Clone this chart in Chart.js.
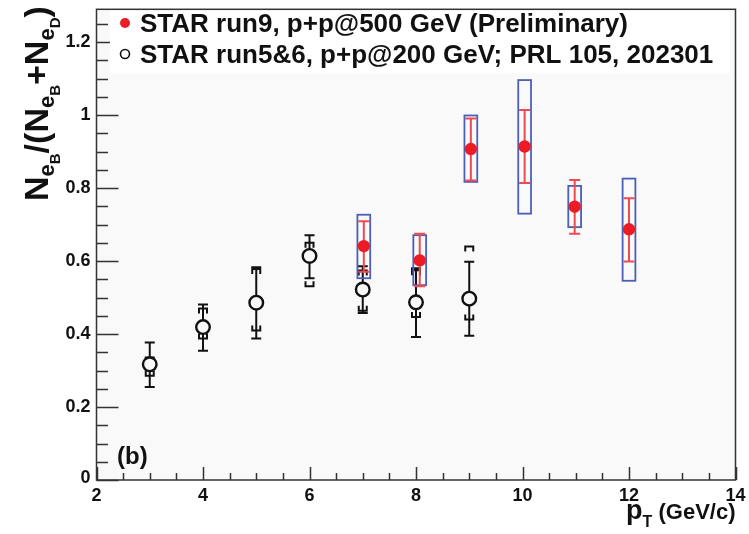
<!DOCTYPE html>
<html>
<head>
<meta charset="utf-8">
<script src="https://cdn.jsdelivr.net/npm/chart.js@4.4.1/dist/chart.umd.min.js"></script>
<style>
  body { margin: 0; background: #fff; }
  canvas { display: block; }
</style>
</head>
<body>
<canvas id="ratiochart" width="749" height="534"></canvas>
<script>
// axis ticks
const xTicks = [2, 4, 6, 8, 10, 12, 14];
const yTicks = [0, 0.2, 0.4, 0.6, 0.8, 1, 1.2];

// STAR run9, p+p@500 GeV (Preliminary)
const run9X = [7.02, 8.07, 9.03, 10.04, 10.98, 12.0];
const run9Y = [0.641, 0.602, 0.907, 0.914, 0.749, 0.687];
const run9StatLo = [0.571, 0.531, 0.821, 0.814, 0.675, 0.599];
const run9StatHi = [0.709, 0.675, 0.991, 1.014, 0.822, 0.772];
const run9SysLo = [0.553, 0.534, 0.817, 0.730, 0.693, 0.546];
const run9SysHi = [0.727, 0.671, 0.999, 1.096, 0.806, 0.826];

// STAR run5&6, p+p@200 GeV
const run56X = [3, 4, 5, 6, 7, 8, 9];
const run56Y = [0.317, 0.419, 0.486, 0.614, 0.522, 0.487, 0.497];
const run56StatLo = [0.255, 0.354, 0.388, 0.553, 0.458, 0.392, 0.395];
const run56StatHi = [0.377, 0.481, 0.583, 0.671, 0.586, 0.580, 0.598];
const run56SysLo = [0.286, 0.388, 0.410, 0.531, 0.464, 0.447, 0.440];
const run56SysHi = [0.336, 0.470, 0.578, 0.650, 0.574, 0.575, 0.640];

const legendLabels = ['STAR run9, p+p@500 GeV (Preliminary)', 'STAR run5&6, p+p@200 GeV; PRL 105, 202301'];

const RED = '#ec1c24';
const RED_BAR = '#ee4a50';
const BLUE = '#4c5fb6';
const INK = '#111';
const FONT = '"Liberation Sans", Arial, Helvetica, sans-serif';
const PLOT_BG = '#f9f9f9';

function toPoints(xs, ys) {
  return xs.map((x, i) => ({ x: x, y: ys[i] }));
}

// draws text pieces with subscripts, returns width
function drawRich(ctx, x, y, parts) {
  let cx = x;
  parts.forEach(p => {
    ctx.font = 'bold ' + p.size + 'px ' + FONT;
    ctx.fillText(p.t, cx, y + (p.dy || 0));
    cx += ctx.measureText(p.t).width;
  });
  return cx - x;
}

const rootStyle = {
  id: 'rootStyle',
  beforeDraw(chart) {
    const { ctx, chartArea: a } = chart;
    ctx.save();
    ctx.fillStyle = '#fff';
    ctx.fillRect(0, 0, chart.width, chart.height);
    ctx.fillStyle = PLOT_BG;
    ctx.fillRect(a.left, a.top, a.right - a.left, a.bottom - a.top);
    ctx.restore();
  },
  beforeDatasetsDraw(chart) {
    const { ctx, chartArea: a, scales: { x, y } } = chart;
    ctx.save();
    // inward ticks
    ctx.strokeStyle = '#333';
    ctx.lineWidth = 1.5;
    ctx.beginPath();
    for (let v = 0; v <= y.max + 1e-9; v += 0.05) {
      const py = Math.round(y.getPixelForValue(v)) + 0.5;
      const major = Math.abs(v / 0.2 - Math.round(v / 0.2)) < 1e-6;
      ctx.moveTo(a.left, py);
      ctx.lineTo(a.left + (major ? 22 : 11.5), py);
    }
    for (let v = x.min; v <= x.max + 1e-9; v += 0.5) {
      const px = Math.round(x.getPixelForValue(v)) + 0.5;
      const major = Math.abs(v / 2 - Math.round(v / 2)) < 1e-6;
      ctx.moveTo(px, a.bottom);
      ctx.lineTo(px, a.bottom - (major ? 13 : 7));
    }
    ctx.stroke();

    // legend box
    ctx.fillStyle = '#fff';
    ctx.fillRect(110, a.top + 1, 620, 63);
    ctx.fillStyle = RED;
    ctx.beginPath();
    ctx.arc(125, 23, 5, 0, Math.PI * 2);
    ctx.fill();
    ctx.strokeStyle = INK;
    ctx.lineWidth = 1.6;
    ctx.beginPath();
    ctx.arc(125, 54, 4.5, 0, Math.PI * 2);
    ctx.stroke();
    ctx.fillStyle = INK;
    ctx.font = 'bold 26px ' + FONT;
    ctx.textBaseline = 'alphabetic';
    ctx.fillText(legendLabels[0], 140, 32);
    ctx.fillText(legendLabels[1], 140, 63);

    // run5&6 errors: stat bars + sys brackets
    ctx.strokeStyle = INK;
    ctx.lineWidth = 2;
    run56X.forEach((xv, i) => {
      const px = x.getPixelForValue(xv);
      const lo = y.getPixelForValue(run56StatLo[i]);
      const hi = y.getPixelForValue(run56StatHi[i]);
      ctx.beginPath();
      ctx.moveTo(px, lo); ctx.lineTo(px, hi);
      ctx.moveTo(px - 5, lo); ctx.lineTo(px + 5, lo);
      ctx.moveTo(px - 5, hi); ctx.lineTo(px + 5, hi);
      const sl = y.getPixelForValue(run56SysLo[i]);
      const sh = y.getPixelForValue(run56SysHi[i]);
      ctx.moveTo(px - 4, sl - 5); ctx.lineTo(px - 4, sl); ctx.lineTo(px + 4, sl); ctx.lineTo(px + 4, sl - 5);
      ctx.moveTo(px - 4, sh + 5); ctx.lineTo(px - 4, sh); ctx.lineTo(px + 4, sh); ctx.lineTo(px + 4, sh + 5);
      ctx.stroke();
    });

    // run9 errors: sys boxes + stat bars
    run9X.forEach((xv, i) => {
      const px = x.getPixelForValue(xv);
      const bl = x.getPixelForValue(xv - 0.12);
      const br = x.getPixelForValue(xv + 0.12);
      const sl = y.getPixelForValue(run9SysLo[i]);
      const sh = y.getPixelForValue(run9SysHi[i]);
      ctx.strokeStyle = BLUE;
      ctx.lineWidth = 1.8;
      ctx.strokeRect(bl, sh, br - bl, sl - sh);
      const lo = y.getPixelForValue(run9StatLo[i]);
      const hi = y.getPixelForValue(run9StatHi[i]);
      ctx.strokeStyle = RED_BAR;
      ctx.lineWidth = 2;
      ctx.beginPath();
      ctx.moveTo(px, lo); ctx.lineTo(px, hi);
      ctx.moveTo(px - 5.5, lo); ctx.lineTo(px + 5.5, lo);
      ctx.moveTo(px - 5.5, hi); ctx.lineTo(px + 5.5, hi);
      ctx.stroke();
    });
    ctx.restore();
  },
  afterDraw(chart) {
    const { ctx, chartArea: a, scales: { x, y } } = chart;
    ctx.save();
    // frame
    ctx.strokeStyle = '#333';
    ctx.lineWidth = 1.5;
    ctx.strokeRect(a.left, a.top, a.right - a.left, a.bottom - a.top);

    // tick labels
    ctx.fillStyle = INK;
    ctx.font = 'bold 18px ' + FONT;
    ctx.textAlign = 'right';
    ctx.textBaseline = 'middle';
    yTicks.forEach(v => {
      ctx.fillText(String(v), a.left - 6, y.getPixelForValue(v) - (v === 0 ? 2 : 0));
    });
    ctx.textAlign = 'center';
    ctx.textBaseline = 'top';
    xTicks.forEach(v => {
      ctx.fillText(String(v), x.getPixelForValue(v), a.bottom + 7);
    });

    // panel label
    ctx.textAlign = 'left';
    ctx.textBaseline = 'alphabetic';
    ctx.font = 'bold 24px ' + FONT;
    ctx.fillText('(b)', 117, 464);

    // x title
    const xParts = [
      { t: 'p', size: 27 },
      { t: 'T', size: 16, dy: 8 },
      { t: ' (GeV/c)', size: 22 }
    ];
    ctx.globalAlpha = 0;
    const w = drawRich(ctx, 0, 0, xParts);
    ctx.globalAlpha = 1;
    drawRich(ctx, a.right - w, 519, xParts);

    // y title
    ctx.translate(48, 201);
    ctx.rotate(-Math.PI / 2);
    drawRich(ctx, 0, 0, [
      { t: 'N', size: 34 },
      { t: 'e', size: 22, dy: 6 },
      { t: 'B', size: 15, dy: 12 },
      { t: '/(N', size: 34 },
      { t: 'e', size: 22, dy: 6 },
      { t: 'B', size: 15, dy: 12 },
      { t: '+N', size: 34 },
      { t: 'e', size: 22, dy: 6 },
      { t: 'D', size: 15, dy: 12 },
      { t: ')', size: 34 }
    ]);
    ctx.restore();
  }
};

const ratioconfig = {
  type: 'scatter',
  data: {
    datasets: [{
      label: legendLabels[0],
      data: toPoints(run9X, run9Y),
      pointRadius: 6.2,
      pointBackgroundColor: RED,
      pointBorderWidth: 0,
      pointBorderColor: RED
    }, {
      label: legendLabels[1],
      data: toPoints(run56X, run56Y),
      pointRadius: 6.8,
      pointBackgroundColor: PLOT_BG,
      pointBorderWidth: 2.4,
      pointBorderColor: INK
    }]
  },
  options: {
    responsive: false,
    animation: false,
    layout: { padding: { left: 96.5, right: 13.5, top: 9.3, bottom: 54 } },
    plugins: { legend: { display: false }, tooltip: { enabled: false } },
    scales: {
      x: { type: 'linear', min: 2, max: 14, display: false },
      y: { type: 'linear', min: 0, max: 1.29, display: false }
    }
  },
  plugins: [rootStyle]
};

const ratiochart = new Chart(document.getElementById('ratiochart'), ratioconfig);
</script>
</body>
</html>
